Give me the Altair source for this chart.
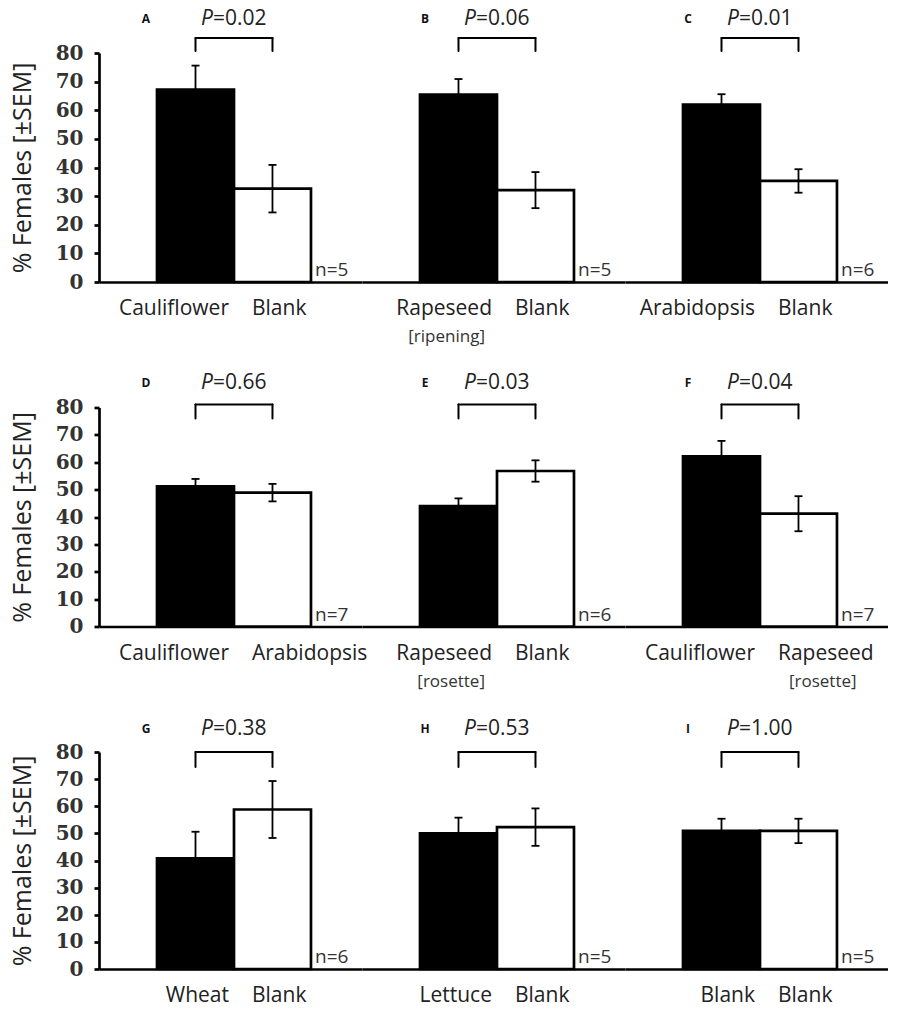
import altair as alt
import pandas as pd

# ---- data ----
panels = ["A", "B", "C", "D", "E", "F", "G", "H", "I"]
p_values = ["0.02", "0.06", "0.01", "0.66", "0.03", "0.04", "0.38", "0.53", "1.00"]
n_values = [5, 5, 6, 7, 6, 7, 6, 5, 5]
left_names = ["Cauliflower", "Rapeseed", "Arabidopsis", "Cauliflower", "Rapeseed",
              "Cauliflower", "Wheat", "Lettuce", "Blank"]
left_notes = ["", "[ripening]", "", "", "[rosette]", "", "", "", ""]
right_names = ["Blank", "Blank", "Blank", "Arabidopsis", "Blank", "Rapeseed",
               "Blank", "Blank", "Blank"]
right_notes = ["", "", "", "", "", "[rosette]", "", "", ""]
left_mean = [67.2, 65.5, 62.0, 51.2, 44.0, 62.2, 40.8, 50.0, 50.9]
left_sem = [8.4, 5.4, 3.6, 2.7, 2.8, 5.6, 9.8, 5.8, 4.5]
right_mean = [32.6, 32.1, 35.3, 48.9, 56.8, 41.2, 58.8, 52.3, 50.9]
right_sem = [8.3, 6.3, 4.1, 3.2, 3.9, 6.4, 10.5, 6.9, 4.5]

# ---- layout / style ----
FONT = "Open Sans"
W = 263
ROW_H = [229, 219, 217]
TITLE_Y = [-34, -25, -23]
BRACKET_TOP = [-15, -3, 0]
BRACKET_BOT = [-2, 11, 15]
LETTER_DX = [-88, -72, -72]
LINE_W = 2.7


def panel(i):
    row, col = divmod(i, 3)
    h = ROW_H[row]
    df = pd.DataFrame({
        "slot": ["left", "right"],
        "mean": [left_mean[i], right_mean[i]],
        "sem": [left_sem[i], right_sem[i]],
        "fill": ["black", "white"],
    })
    df["lo"] = df["mean"] - df["sem"]
    df["hi"] = df["mean"] + df["sem"]
    info = pd.DataFrame({
        "left": ["left"], "right": ["right"],
        "p": ["=" + p_values[i]], "P": ["P"],
        "n": [f"n={n_values[i]}"], "letter": [panels[i]],
        "lname": [left_names[i]], "rname": [right_names[i]],
        "lnote": [left_notes[i]], "rnote": [right_notes[i]],
    })

    xscale = alt.Scale(domain=["left", "right"], paddingInner=0,
                       paddingOuter=0.708, align=0.532)
    yscale = alt.Scale(domain=[0, 80], nice=False, zero=True)
    if col == 0:
        yaxis = alt.Axis(values=list(range(0, 81, 10)), title="% Females [±SEM]",
                         titleFont=FONT, titleFontSize=25, titleFontWeight="normal",
                         titleColor="#222", labelFont="DejaVu Serif",
                         labelFontWeight="bold", labelFontSize=20, labelColor="#333",
                         tickSize=5, tickWidth=LINE_W, tickColor="black",
                         domain=True, domainWidth=LINE_W, domainColor="black",
                         labelPadding=11, titlePadding=20, grid=False,
                         labelFlush=False, labelOverlap=False)
    else:
        yaxis = None
    xaxis = alt.Axis(labels=False, ticks=False, title=None, domain=True,
                     domainColor="black", domainWidth=LINE_W, grid=False)

    base = alt.Chart(df)
    bars = base.mark_bar(stroke="black", strokeWidth=LINE_W).encode(
        x=alt.X("slot:N", scale=xscale, axis=xaxis),
        y=alt.Y("mean:Q", scale=yscale, axis=yaxis),
        fill=alt.Fill("fill:N", scale=None),
    )
    err = base.mark_rule(color="black", strokeWidth=1.8).encode(
        x=alt.X("slot:N", axis=xaxis), y=alt.Y("lo:Q", axis=yaxis), y2="hi:Q")
    cap_hi = base.mark_tick(orient="horizontal", size=8, thickness=1.8,
                            color="black", opacity=1).encode(
        x=alt.X("slot:N", axis=xaxis), y=alt.Y("hi:Q", axis=yaxis))
    cap_lo = base.mark_tick(orient="horizontal", size=8, thickness=1.8,
                            color="black", opacity=1).encode(
        x=alt.X("slot:N", axis=xaxis), y=alt.Y("lo:Q", axis=yaxis))
    br_v = base.mark_rule(color="black", strokeWidth=2, strokeCap="round").encode(
        x=alt.X("slot:N", axis=xaxis), y=alt.value(BRACKET_TOP[row]),
        y2=alt.value(BRACKET_BOT[row]))

    ib = alt.Chart(info)
    xb = alt.X("right:N", bandPosition=0, axis=xaxis)
    br_h = ib.mark_rule(color="black", strokeWidth=2, strokeCap="round").encode(
        x=alt.X("left:N", axis=xaxis), x2="right:N", y=alt.value(BRACKET_TOP[row]))
    p_italic = ib.mark_text(font=FONT, fontSize=21, fontStyle="italic", color="#222",
                            align="right", baseline="middle", dx=-21).encode(
        x=xb, y=alt.value(TITLE_Y[row]), text="P:N")
    p_text = ib.mark_text(font=FONT, fontSize=21, color="#222", align="left",
                          baseline="middle", dx=-21).encode(
        x=xb, y=alt.value(TITLE_Y[row]), text="p:N")
    letter = ib.mark_text(font=FONT, fontSize=12, fontWeight="bold", color="#111",
                          align="center", baseline="middle", dx=LETTER_DX[col]).encode(
        x=xb, y=alt.value(TITLE_Y[row]), text="letter:N")
    lname = ib.mark_text(font=FONT, fontSize=21, color="#222", align="right",
                         baseline="middle", dx=-5).encode(
        x=xb, y=alt.value(h + 27), text="lname:N")
    rname = ib.mark_text(font=FONT, fontSize=21, color="#222", align="left",
                         baseline="middle", dx=18).encode(
        x=xb, y=alt.value(h + 27), text="rname:N")
    lnote = ib.mark_text(font=FONT, fontSize=17, color="#333", align="right",
                         baseline="middle", dx=-12).encode(
        x=xb, y=alt.value(h + 55), text="lnote:N")
    rnote = ib.mark_text(font=FONT, fontSize=17, color="#333", align="left",
                         baseline="middle", dx=29).encode(
        x=xb, y=alt.value(h + 55), text="rnote:N")
    ntext = ib.mark_text(font=FONT, fontSize=19, color="#333", align="left",
                         baseline="alphabetic", dx=4).encode(
        x=alt.X("right:N", bandPosition=1, axis=xaxis), y=alt.value(h - 6), text="n:N")

    return alt.layer(bars, err, cap_hi, cap_lo, br_v, br_h, lname, rname, lnote,
                     rnote, p_italic, p_text, letter, ntext).properties(width=W, height=h)


chart = alt.concat(*[panel(i) for i in range(9)], columns=3,
                   spacing={"row": 125.5, "column": 0}, bounds="flush").properties(
    padding={"left": 2, "top": 0, "right": 0, "bottom": 0},
    background="white",
).configure_view(stroke=None, strokeWidth=0)

chart.save("out.html", embed_options={"renderer": "svg", "actions": False})
